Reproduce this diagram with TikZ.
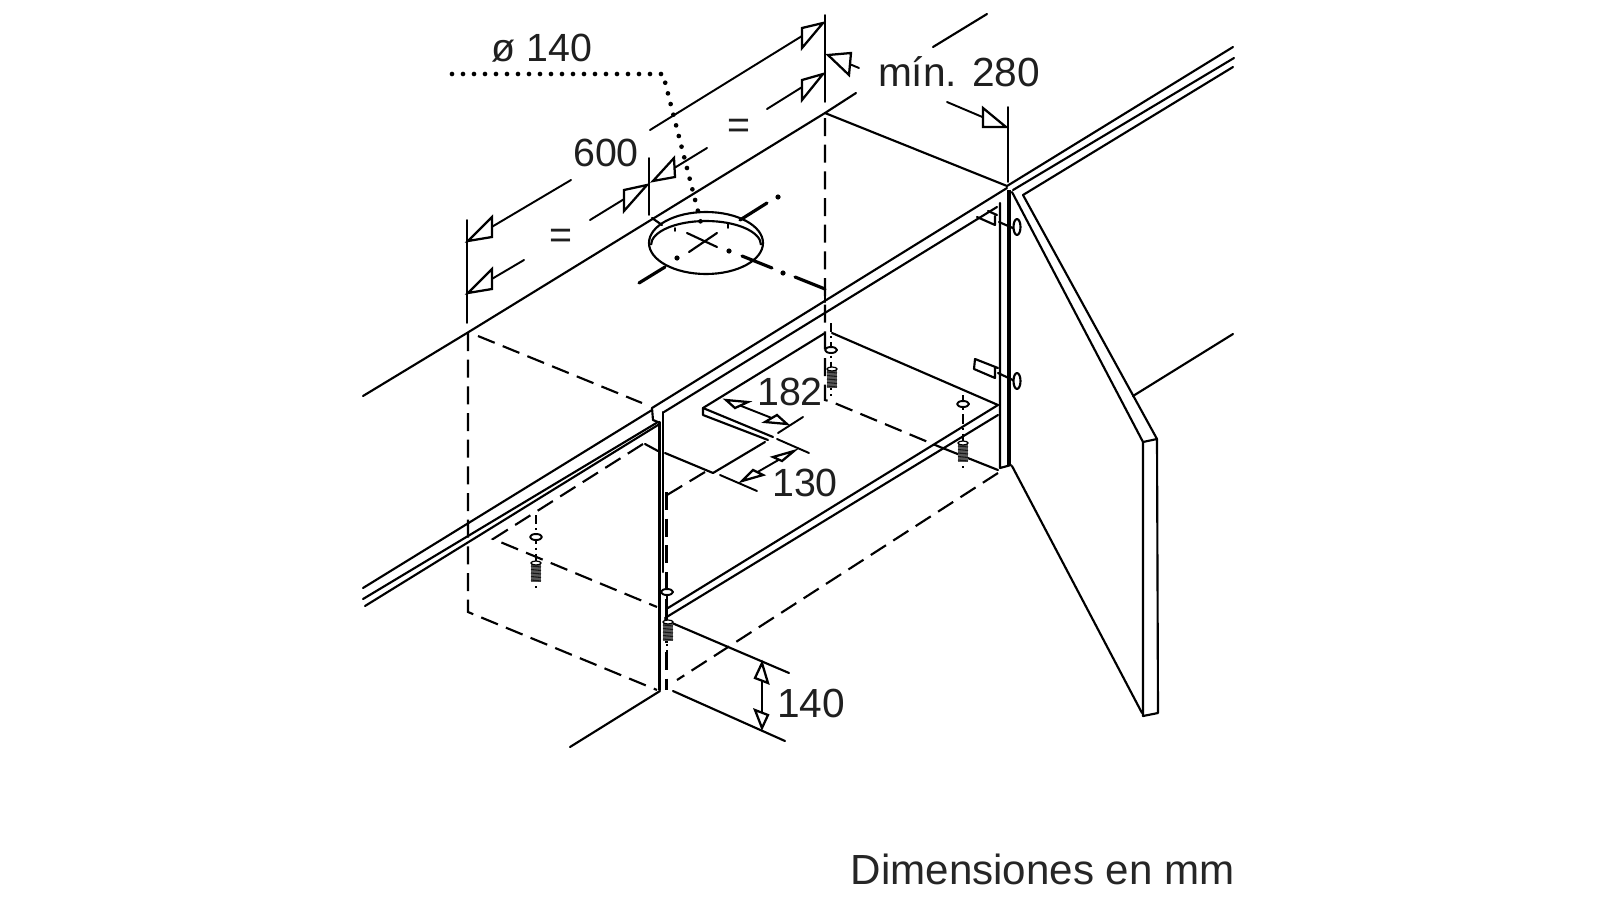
\documentclass[tikz,border=0pt]{standalone}
\usepackage{fontspec}
\setmainfont{Liberation Sans}
\tikzset{
  solidline/.style={line width=1.6pt,line cap=round,line join=round,black},
  thinline/.style={line width=1.45pt,line cap=round,line join=round,black},
  dashline/.style={line width=1.6pt,black,dash pattern=on 13.5pt off 6.5pt},
  axisline/.style={line width=1.3pt,black,dash pattern=on 7pt off 3pt on 1.5pt off 3pt},
  heavyline/.style={line width=2.4pt,line cap=round,black},
  leaderline/.style={line width=3.5pt,line cap=round,black,dash pattern=on 0pt off 8.25pt},
  headtri/.style={draw=black,fill=white,line width=1.7pt,line join=miter},
  holeline/.style={line width=1.6pt,black},
  label40/.style={inner sep=0pt,font=\fontsize{29.5}{30}\selectfont,text=black!88},
  label41/.style={inner sep=0pt,font=\fontsize{30.5}{31}\selectfont,text=black!88},
  label42/.style={inner sep=0pt,font=\fontsize{31.6}{32}\selectfont,text=black!85},
}
\newcommand{\screwat}[2]{%
  \fill[black!65] (#1-5,#2-10) rectangle (#1+5,#2+9);
  \foreach \k in {-7,-3.5,0,3.5,7}{\draw[line width=.8pt,black!90] (#1-5,#2+\k) -- (#1+5,#2+\k+1);}
  \draw[line width=.9pt,black,fill=white] (#1,#2-10) ellipse [x radius=5,y radius=2];
}
\begin{document}
\begin{tikzpicture}[x=0.75pt,y=-0.75pt]
\useasboundingbox[fill=white] (0,0) rectangle (1600,900);

% wall top / ceiling
\draw[solidline] (363,396) -- (467,333) -- (825,113) -- (856,93);
\draw[solidline] (933,47) -- (987,14);
\draw[solidline] (825,113) -- (1007,186);
\draw[thinline] (825,15) -- (825,102);
\draw[thinline] (649,158) -- (649,215);
\draw[thinline] (467,220) -- (467,323);
\draw[thinline] (1008,107) -- (1008,182);

% rails right
\draw[solidline] (1007,186) -- (1233,47);
\draw[solidline] (1013,190) -- (1234,58);
\draw[solidline] (1023,195) -- (1233,67);
% rails left
\draw[solidline] (363,588) -- (652,410);
\draw[solidline] (363,599) -- (658,422);
\draw[solidline] (365,606) -- (658,425);

% front panel lines
\draw[solidline] (652,408) -- (1007,188);
\draw[solidline] (664,412) -- (997,207);
\draw[solidline] (652,408) -- (653,420) -- (658,422);
\draw[solidline] (659.5,422) -- (659.5,690);
\draw[solidline] (663,412) -- (663,572);
\draw[solidline] (1000,203) -- (1000,468) -- (1011,465);
\draw[line width=3.4pt,black] (1009,190) -- (1009,465);

% door
\draw[solidline] (1012,192) -- (1143,442);
\draw[solidline] (1023,195) -- (1157,439);
\draw[solidline] (1143,442) -- (1157,439) -- (1158,713) -- (1143,716) -- cycle;
\draw[solidline] (1012,466) -- (1142,713);
\draw[solidline] (1133,396) -- (1233,334);

% hinges
\draw[solidline] (977,217) -- (995,225) -- (995,216);
\draw[solidline] (988,211) -- (997,215);
\draw[solidline] (999,222) -- (1015,229);
\draw[solidline,fill=white] (1017,227) ellipse [x radius=3.5,y radius=8];
\draw[solidline] (998,368) -- (975,359) -- (974,369) -- (995,378) -- (995,368);
\draw[solidline] (998,373) -- (1015,381);
\draw[solidline,fill=white] (1017,381) ellipse [x radius=3.5,y radius=8];

% shelf
\draw[solidline] (825,333) -- (703,408) -- (703,415) -- (768,440);
\draw[solidline] (703,408) -- (773,437);
\draw[solidline] (832,333) -- (998,405);
\draw[solidline] (998,405) -- (668,608);
\draw[solidline] (998,415) -- (665,618);
\draw[solidline] (765,442) -- (713,473);
\draw[solidline] (645,444) -- (658,451);
\draw[solidline] (665,453) -- (713,473);
\draw[solidline] (940,447) -- (998,470);
\draw[solidline] (665,620) -- (789,673);
\draw[solidline] (673,691) -- (785,741);
\draw[solidline] (660,691) -- (570,747);

% hidden edges
\draw[dashline] (825,118) -- (825,400) -- (832,402) -- (940,447);
\draw[dashline] (468,333) -- (468,612) -- (657,690);
\draw[dashline] (478,336) -- (642,403);
\draw[dashline] (643,444) -- (493,539) -- (657,607);
\draw[dashline] (705,472) -- (667,495);
\draw[dashline] (666.5,492) -- (666.5,690);
\draw[dashline] (998,473) -- (677,680);

% vertical screw axes, holes, screws
\draw[axisline] (831,323) -- (831,397);
\draw[axisline] (963,395) -- (963,470);
\draw[axisline] (536,515) -- (536,590);
\draw[axisline] (667,573) -- (667,655);
\foreach \a/\b in {831/350,963/404,536/537,667/592}{
  \draw[thinline,fill=white] (\a,\b) ellipse [x radius=6,y radius=3];
}
\screwat{832}{379}
\screwat{963}{453}
\screwat{536}{573}
\screwat{668}{632}

% hole
\draw[holeline] (706,243) ellipse [x radius=57,y radius=31];
\draw[holeline] (651,245) arc[start angle=180,end angle=360,x radius=55,y radius=24];
\draw[heavyline] (639,283) -- (665,267);
\draw[solidline] (689,252) -- (717,233);
\draw[heavyline] (740,220) -- (767,203);
\draw[solidline] (652,218) -- (662,225);
\draw[solidline] (687,233) -- (717,247);
\draw[heavyline] (742,256) -- (772,268);
\draw[heavyline] (795,277) -- (825,289);
\draw[solidline] (825,289) -- (825,302);
\fill (778,197) circle[radius=2.6];
\fill (677,258) circle[radius=2.6];
\fill (729,251) circle[radius=2.6];
\fill (783,273) circle[radius=2.6];
\draw[thinline] (675,228) -- (675,231);
\draw[thinline] (728,224) -- (728,228);

% leader
\draw[leaderline] (452,74) -- (663,74) -- (702,227);

% dimension lines
\draw[thinline] (650,130) -- (823,23);
\draw[thinline] (767,109) -- (823,74);
\draw[thinline] (707,148) -- (653,181);
\draw[thinline] (590,220) -- (647,185);
\draw[thinline] (571,180) -- (468,241);
\draw[thinline] (524,260) -- (468,293);
\draw[thinline] (859,68) -- (828,55);
\draw[thinline] (947,102) -- (1006,127);

\draw[headtri] (823,23) -- (802,28) -- (802,48) -- cycle;
\draw[headtri] (823,74) -- (802,80) -- (802,100) -- cycle;
\draw[headtri] (653,181) -- (674,158) -- (675,177) -- cycle;
\draw[headtri] (647,185) -- (624,190) -- (624,211) -- cycle;
\draw[headtri] (468,241) -- (492,217) -- (492,237) -- cycle;
\draw[headtri] (468,293) -- (492,269) -- (492,289) -- cycle;
\draw[headtri] (828,55) -- (851,53) -- (849,75) -- cycle;
\draw[headtri] (1006,127) -- (983,108) -- (983,127) -- cycle;

% small dimensions
\draw[thinline] (778,433) -- (803,417);
\draw[thinline] (777,439) -- (809,453);
\draw[thinline] (720,475) -- (757,491);
\draw[thinline] (726,400) -- (787,424);
\draw[thinline] (794,451) -- (742,481);
\draw[thinline] (762,663) -- (762,728);
\draw[headtri] (726,400) -- (748,402) -- (735,408) -- cycle;
\draw[headtri] (787,424) -- (765,422) -- (777,415) -- cycle;
\draw[headtri] (794,451) -- (773,457) -- (782,461) -- cycle;
\draw[headtri] (742,481) -- (763,475) -- (753,470) -- cycle;
\draw[headtri] (762,663) -- (755,678) -- (768,683) -- cycle;
\draw[headtri] (762,728) -- (755,710) -- (768,715) -- cycle;

% equals signs
\node[label40] (eqa) at (739,129) {=};
\node[label40] (eqb) at (561,239) {=};

% labels
\node[label40] (dia) at (542,48) {ø 140};
\node[label40] (w600) at (606,153) {600};
\node[label41] (min) at (959,72) {mín. 280};
\node[label40] (d182) at (790,392) {182};
\node[label40] (d130) at (805,483) {130};
\node[label41] (d140) at (811,703) {140};
\node[label42,anchor=east] (unit) at (1235,869) {Dimensiones en mm};
\end{tikzpicture}
\end{document}
